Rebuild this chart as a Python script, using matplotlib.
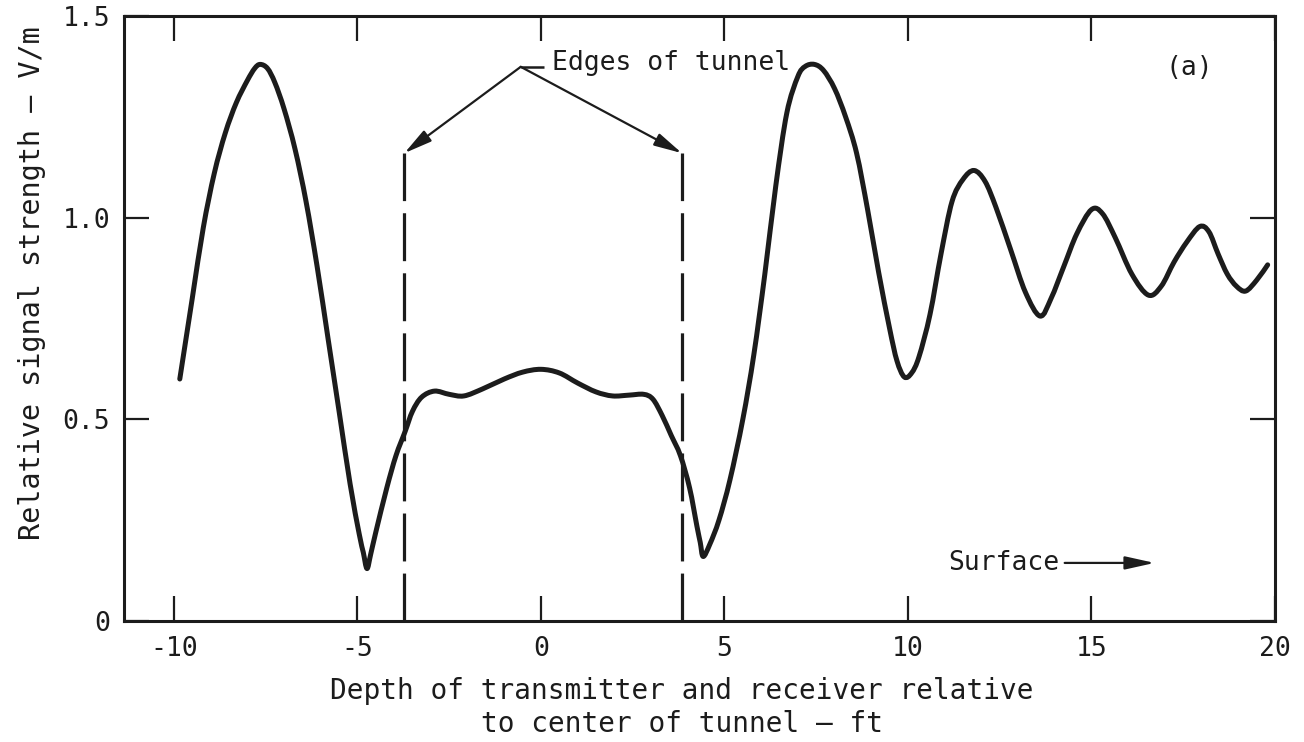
import matplotlib
matplotlib.use("Agg")
import numpy as np
import matplotlib.pyplot as plt
from matplotlib.path import Path
from matplotlib.patches import PathPatch

plt.rcParams["font.family"] = ["DejaVu Sans Mono"]
plt.rcParams["axes.unicode_minus"] = False

# Relative signal strength vs. depth of transmitter/receiver (ft from tunnel center)
depth_ft = [
    -9.84, -9.5, -9.2, -8.9, -8.6, -8.3, -8.0, -7.8, -7.65, -7.45, -7.25, -7.0,
    -6.7, -6.4, -6.1, -5.8, -5.5, -5.2, -4.95, -4.84, -4.74, -4.64, -4.5, -4.2,
    -3.95, -3.7, -3.5, -3.25, -2.9, -2.5, -2.1, -1.6, -1.0, -0.5, 0.0, 0.5, 1.0,
    1.5, 1.95, 2.4, 2.8, 3.05, 3.3, 3.55, 3.8, 4.05, 4.25, 4.34, 4.42, 4.6, 4.85,
    5.15, 5.5, 5.8, 6.1, 6.4, 6.7, 7.0, 7.2, 7.45, 7.7, 8.0, 8.3, 8.6, 8.9, 9.2,
    9.5, 9.7, 9.9, 10.1, 10.3, 10.6, 10.9, 11.2, 11.5, 11.8, 12.1, 12.4, 12.8,
    13.2, 13.6, 13.9, 14.25, 14.6, 15.0, 15.3, 15.65, 16.1, 16.55, 16.9, 17.25,
    17.6, 17.95, 18.2, 18.45, 18.7, 18.95, 19.2, 19.5, 19.8,
]
signal_vm = [
    0.60, 0.80, 0.975, 1.11, 1.21, 1.285, 1.34, 1.37, 1.38, 1.37, 1.335, 1.27,
    1.17, 1.04, 0.88, 0.70, 0.52, 0.34, 0.215, 0.17, 0.13, 0.165, 0.22, 0.33,
    0.41, 0.47, 0.52, 0.555, 0.57, 0.562, 0.558, 0.575, 0.60, 0.617, 0.624,
    0.615, 0.59, 0.568, 0.558, 0.56, 0.562, 0.55, 0.51, 0.46, 0.41, 0.33, 0.235,
    0.195, 0.16, 0.19, 0.25, 0.35, 0.50, 0.66, 0.86, 1.08, 1.26, 1.35, 1.375,
    1.38, 1.365, 1.32, 1.25, 1.16, 1.02, 0.865, 0.725, 0.645, 0.605, 0.615, 0.655,
    0.76, 0.91, 1.04, 1.095, 1.117, 1.09, 1.025, 0.92, 0.815, 0.756, 0.80, 0.88,
    0.96, 1.02, 1.01, 0.95, 0.86, 0.808, 0.83, 0.89, 0.94, 0.978, 0.965, 0.91,
    0.86, 0.83, 0.818, 0.845, 0.883,
]

tunnel_edges = [-3.72, 3.84]
edge_marker_top = 1.16

x_ticks = [-10, -5, 0, 5, 10, 15, 20]
x_tick_labels = ["-10", "-5", "0", "5", "10", "15", "20"]
y_ticks = [0, 0.5, 1.0, 1.5]
y_tick_labels = ["0", "0.5", "1.0", "1.5"]

ink = "#1c1c1c"


def smooth_path(xs, ys):
    """Cubic Bezier path passing through every (x, y) point (Catmull-Rom tangents)."""
    p = np.column_stack([xs, ys]).astype(float)
    ext = np.vstack([p[0], p, p[-1]])
    verts = [p[0]]
    codes = [Path.MOVETO]
    for i in range(len(p) - 1):
        p0, p1, p2, p3 = ext[i], ext[i + 1], ext[i + 2], ext[i + 3]
        c1 = p1 + (p2 - p0) / 6.0
        c2 = p2 - (p3 - p1) / 6.0
        verts += [c1, c2, p2]
        codes += [Path.CURVE4] * 3
    return Path(verts, codes)


fig = plt.figure(figsize=(13.04, 7.42), dpi=100)
ax = fig.add_axes([124 / 1304, 1 - 621 / 742, (1275 - 124) / 1304, (621 - 16) / 742])

curve = PathPatch(smooth_path(depth_ft, signal_vm), fill=False, edgecolor=ink,
                  lw=3.6, joinstyle="round", capstyle="round", zorder=3)
ax.add_patch(curve)

# Tunnel edges
for xe in tunnel_edges:
    ax.plot([xe, xe], [0, edge_marker_top], color=ink, lw=2.3,
            linestyle=(0, (15, 3.8)), zorder=2)

# "Edges of tunnel" callout
apex = (-0.55, 1.374)
for xe in tunnel_edges:
    ax.annotate("", xy=(xe, edge_marker_top), xytext=apex,
                arrowprops=dict(arrowstyle="-|>,head_length=0.85,head_width=0.2",
                                mutation_scale=20, lw=1.6, color=ink,
                                shrinkA=0, shrinkB=0))
ax.plot([apex[0], 0.07], [apex[1], apex[1]], color=ink, lw=1.8, solid_capstyle="butt")
ax.text(0.29, 1.384, "Edges of tunnel", fontsize=19, color=ink,
        ha="left", va="center")

ax.text(17.67, 1.371, "(a)", fontsize=19, color=ink, ha="center", va="center")

# Surface direction
ax.text(11.1, 0.144, "Surface", fontsize=19, color=ink, ha="left", va="center")
ax.annotate("", xy=(16.72, 0.144), xytext=(14.27, 0.144),
            arrowprops=dict(arrowstyle="-|>,head_length=0.9,head_width=0.2",
                            mutation_scale=20, lw=1.6, color=ink,
                            shrinkA=0, shrinkB=0))

ax.set_xlim(-11.36, 20.0)
ax.set_ylim(0, 1.5)
ax.set_xticks(x_ticks)
ax.set_xticklabels(x_tick_labels)
ax.set_yticks(y_ticks)
ax.set_yticklabels(y_tick_labels)

ax.tick_params(direction="in", length=18, width=1.6, top=True, right=True,
               labelsize=19, colors=ink)
ax.tick_params(axis="x", pad=11)
ax.tick_params(axis="y", pad=10)
for s in ax.spines.values():
    s.set_linewidth(2.2)
    s.set_color(ink)

ax.set_xlabel("Depth of transmitter and receiver relative\nto center of tunnel \u2014 ft",
              fontsize=20, color=ink, linespacing=1.25)
ax.xaxis.set_label_coords((682 - 124) / 1151, (621 - 677) / 605)
ax.set_ylabel("Relative signal strength \u2014 V/m", fontsize=20.5, color=ink)
ax.yaxis.set_label_coords((46 - 124) / 1151, (621 - 283) / 605)

fig.savefig("out.png", dpi=100, facecolor="white")
